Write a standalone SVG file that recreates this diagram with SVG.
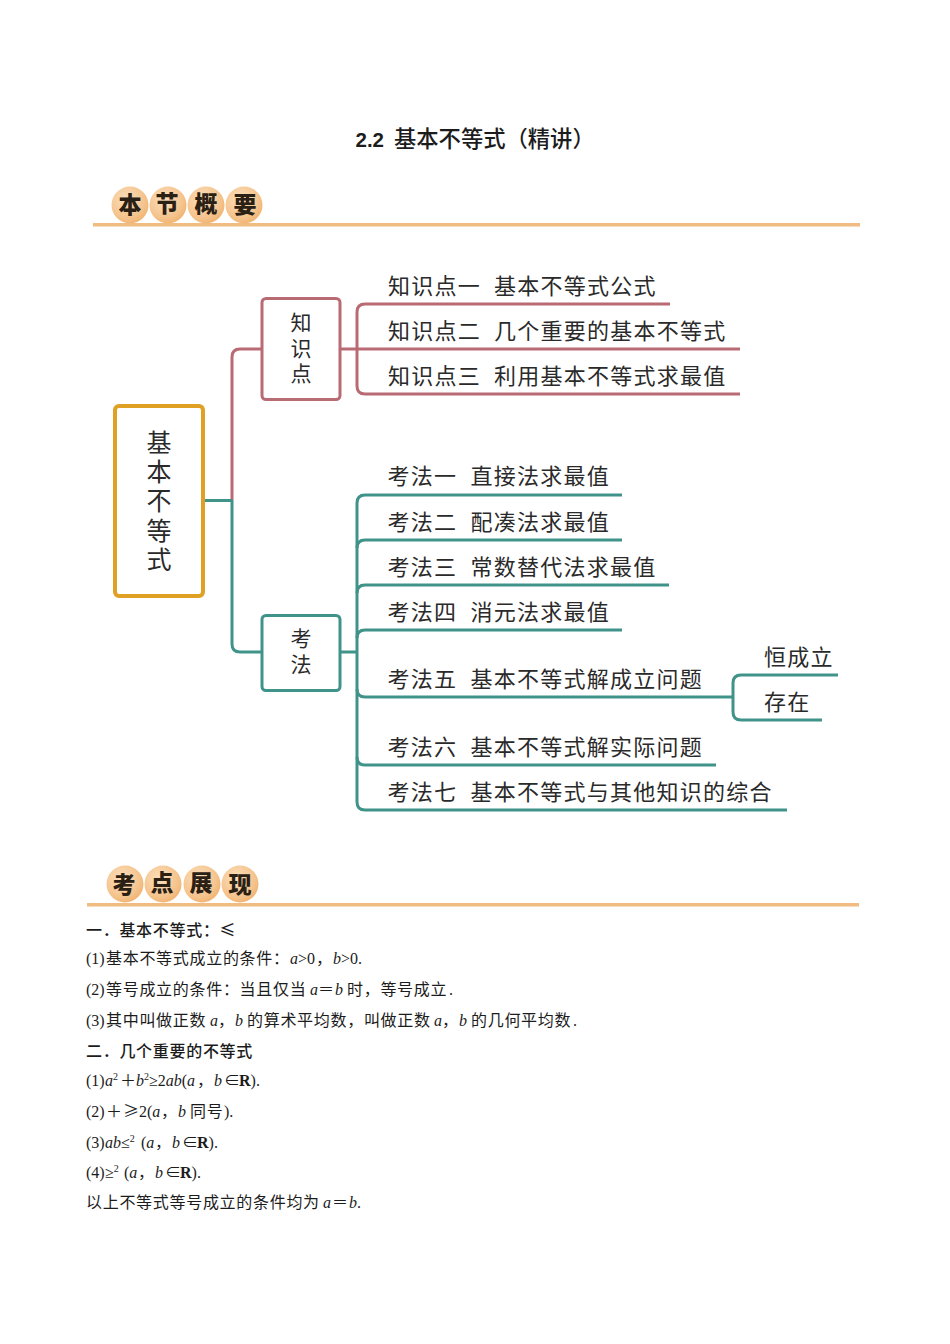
<svg xmlns="http://www.w3.org/2000/svg" width="950" height="1344" viewBox="0 0 950 1344">
<style>
text{font-family:"Liberation Serif","Noto Sans CJK SC",serif;fill:#1c1c1c}
.c{font-family:"Noto Sans CJK SC",sans-serif;font-weight:400}
.l{font-size:22px;letter-spacing:1.25px;fill:#2a2a2a}
.v{font-size:21px;letter-spacing:4.5px;writing-mode:vertical-rl;fill:#2a2a2a}
.m{font-size:25px;letter-spacing:4.2px;writing-mode:vertical-rl;fill:#2a2a2a}
.b{font-size:16px}
.bc{font-family:"Noto Sans CJK SC",sans-serif;font-weight:400;font-size:16px;letter-spacing:.7px}
.h{font-family:"Noto Sans CJK SC",sans-serif;font-weight:500;font-size:16px;letter-spacing:.7px}
.i{font-style:italic}
.s{font-size:10px}
.bdg{font-family:"Noto Sans CJK SC",sans-serif;font-weight:900;font-size:23px;text-anchor:middle;fill:#2a2013}
.p{fill:none;stroke:#B96B74;stroke-width:3}
.t{fill:none;stroke:#3F9389;stroke-width:3}
.rule{fill:#F0BC82}
.ball{fill:url(#g)}
</style>
<defs>
<radialGradient id="g" cx="40%" cy="35%" r="75%">
<stop offset="0" stop-color="#FBE0BE"/><stop offset="0.65" stop-color="#F5C48E"/><stop offset="1" stop-color="#EFAE68"/>
</radialGradient>
</defs>
<rect width="950" height="1344" fill="#fff"/>
<g id="title">
<text x="355.500" y="147" style="font-family:'Liberation Sans',sans-serif;font-weight:700;font-size:20.500px">2.2</text>
<text x="394" y="147" style="font-family:'Noto Sans CJK SC',sans-serif;font-weight:500;font-size:22.300px">基本不等式（精讲）</text>
</g>
<g id="header-1">
<rect class="rule" x="93" y="223" width="767" height="3.500"/>
<circle class="ball" cx="130" cy="205" r="18.500"/><circle class="ball" cx="168" cy="205" r="18.500"/><circle class="ball" cx="206" cy="205" r="18.500"/><circle class="ball" cx="244" cy="205" r="18.500"/>
<text class="bdg" x="130" y="213">本</text><text class="bdg" x="167" y="212">节</text><text class="bdg" x="206" y="212">概</text><text class="bdg" x="245" y="213">要</text>
</g>
<g id="connectors">
<path d="M232 500V357Q232 349 240 349H262" class="p"/>
<path d="M340 349H740" class="p"/>
<path d="M670 304H365Q357 304 357 312V386Q357 394 365 394H740" class="p"/>
<path d="M204 500.500H232" class="t"/>
<path d="M232 500V644Q232 652 240 652H262" class="t"/>
<path d="M340 652H357" class="t"/>
<path d="M622 495H365Q357 495 357 503V802Q357 810 365 810H787" class="t"/>
<path d="M622 540H365Q357 540 357 548M669 585H365Q357 585 357 593M622 630H365Q357 630 357 638M357 689Q357 697 365 697H733M357 757Q357 765 365 765H716" class="t"/>
<path d="M838 675H741Q733 675 733 683V712Q733 720 741 720H822" class="t"/>
</g>
<g id="node-root">
<rect x="115" y="406" width="88" height="190" rx="4" fill="#fff" stroke="#DFA023" stroke-width="4"/>
<text class="c m" x="159" y="430">基本不等式</text>
</g>
<g id="node-zhishidian">
<rect x="262" y="298.500" width="78" height="101" rx="4" fill="#fff" stroke="#B96B74" stroke-width="3"/>
<text class="c v" x="301" y="312">知识点</text>
</g>
<g id="node-kaofa">
<rect x="262" y="615.500" width="78" height="75" rx="4" fill="#fff" stroke="#3F9389" stroke-width="3"/>
<text class="c v" x="301" y="628">考法</text>
</g>
<g id="labels">
<text class="c l" x="388" y="293.500">知识点一</text><text class="c l" x="494" y="293.500">基本不等式公式</text>
<text class="c l" x="388" y="338.500">知识点二</text><text class="c l" x="494" y="338.500">几个重要的基本不等式</text>
<text class="c l" x="388" y="383.500">知识点三</text><text class="c l" x="494" y="383.500">利用基本不等式求最值</text>
<text class="c l" x="387.500" y="484">考法一</text><text class="c l" x="470.500" y="484">直接法求最值</text>
<text class="c l" x="387.500" y="530">考法二</text><text class="c l" x="470.500" y="530">配凑法求最值</text>
<text class="c l" x="387.500" y="574.500">考法三</text><text class="c l" x="470.500" y="574.500">常数替代法求最值</text>
<text class="c l" x="387.500" y="619.500">考法四</text><text class="c l" x="470.500" y="619.500">消元法求最值</text>
<text class="c l" x="387.500" y="687">考法五</text><text class="c l" x="470.500" y="687">基本不等式解成立问题</text>
<text class="c l" x="387.500" y="755">考法六</text><text class="c l" x="470.500" y="755">基本不等式解实际问题</text>
<text class="c l" x="387.500" y="800">考法七</text><text class="c l" x="470.500" y="800">基本不等式与其他知识的综合</text>
<text class="c l" x="764" y="664.500">恒成立</text>
<text class="c l" x="764" y="709.500">存在</text>
</g>
<g id="header-2">
<rect class="rule" x="87" y="903" width="772" height="3.500"/>
<circle class="ball" cx="125" cy="884" r="18.500"/><circle class="ball" cx="163" cy="884" r="18.500"/><circle class="ball" cx="202" cy="884" r="18.500"/><circle class="ball" cx="240" cy="884" r="18.500"/>
<text class="bdg" x="124" y="893">考</text><text class="bdg" x="162" y="891">点</text><text class="bdg" x="201" y="891">展</text><text class="bdg" x="240" y="893">现</text>
</g>
<g id="body">
<text class="h" x="86" y="936">一．基本不等式：≤</text>
<text class="b" y="964"><tspan x="86">(1)</tspan><tspan class="bc" x="106">基本不等式成立的条件：</tspan><tspan class="i" x="290">a</tspan>&gt;0<tspan class="bc" x="316">，</tspan><tspan class="i" x="333">b</tspan>&gt;0.</text>
<text class="b" y="995"><tspan x="86">(2)</tspan><tspan class="bc" x="106">等号成立的条件：当且仅当</tspan><tspan class="i" x="310">a</tspan><tspan class="bc" x="318">＝</tspan><tspan class="i" x="335">b</tspan><tspan class="bc" x="347">时，等号成立</tspan><tspan x="449">.</tspan></text>
<text class="b" y="1026"><tspan x="86">(3)</tspan><tspan class="bc" x="106">其中叫做正数</tspan><tspan class="i" x="210">a</tspan><tspan class="bc" x="218">，</tspan><tspan class="i" x="235">b</tspan><tspan class="bc" x="247">的算术平均数，叫做正数</tspan><tspan class="i" x="434">a</tspan><tspan class="bc" x="442">，</tspan><tspan class="i" x="459">b</tspan><tspan class="bc" x="471">的几何平均数</tspan><tspan x="573">.</tspan></text>
<text class="h" x="86" y="1057">二．几个重要的不等式</text>
<text class="b" y="1086"><tspan x="86">(1)</tspan><tspan class="i" x="105">a</tspan><tspan class="s" dy="-6">2</tspan><tspan class="bc" x="120" dy="6">＋</tspan><tspan class="i" x="136">b</tspan><tspan class="s" dy="-6">2</tspan><tspan dy="6" x="149">≥2</tspan><tspan class="i">ab</tspan>(<tspan class="i">a</tspan><tspan class="bc" x="197">，</tspan><tspan class="i" x="214">b</tspan><tspan x="224">∈</tspan><tspan x="239" font-weight="700">R</tspan>).</text>
<text class="b" y="1117"><tspan x="86">(2)</tspan><tspan class="bc" x="106">＋</tspan><tspan class="bc" x="123">≥</tspan><tspan x="139">2(</tspan><tspan class="i">a</tspan><tspan class="bc" x="161">，</tspan><tspan class="i" x="178">b</tspan><tspan class="bc" x="190">同号</tspan><tspan x="224">).</tspan></text>
<text class="b" y="1148"><tspan x="86">(3)</tspan><tspan class="i" x="105">ab</tspan>≤<tspan class="s" dy="-6">2</tspan><tspan dy="6" x="141">(</tspan><tspan class="i">a</tspan><tspan class="bc" x="155">，</tspan><tspan class="i" x="172">b</tspan><tspan x="182">∈</tspan><tspan x="197" font-weight="700">R</tspan>).</text>
<text class="b" y="1178"><tspan x="86">(4)</tspan><tspan x="105">≥</tspan><tspan class="s" dy="-6">2</tspan><tspan dy="6" x="124">(</tspan><tspan class="i">a</tspan><tspan class="bc" x="138">，</tspan><tspan class="i" x="155">b</tspan><tspan x="165">∈</tspan><tspan x="180" font-weight="700">R</tspan>).</text>
<text class="b" y="1208"><tspan class="bc" x="86">以上不等式等号成立的条件均为</tspan><tspan class="i" x="323">a</tspan><tspan class="bc" x="332">＝</tspan><tspan class="i" x="349">b</tspan>.</text>
</g>
</svg>
